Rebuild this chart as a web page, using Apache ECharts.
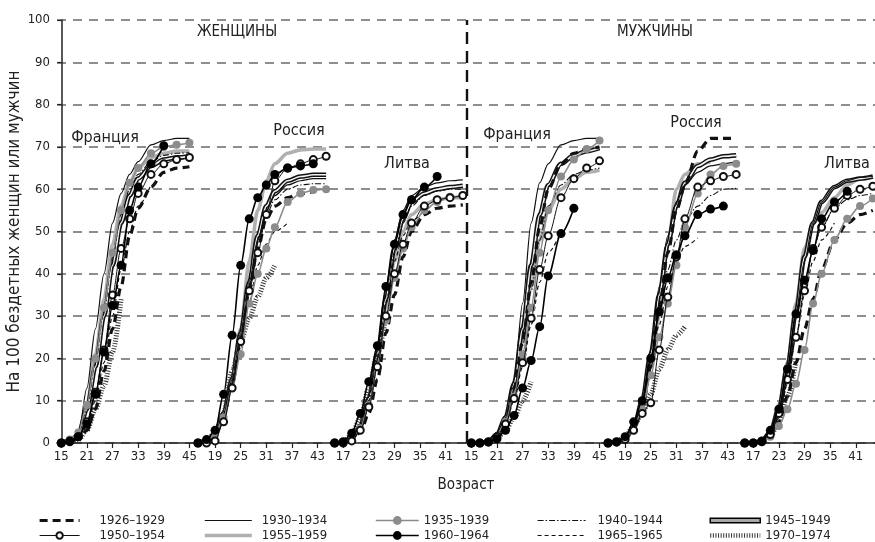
<!DOCTYPE html>
<html><head><meta charset="utf-8">
<script src="https://cdn.jsdelivr.net/npm/echarts@6/dist/echarts.min.js"></script>
<style>html,body{margin:0;padding:0;background:#fff}#c{width:875px;height:542px}</style>
</head><body><div id="c"></div>
<script>
const FONT = "'Liberation Sans Narrow','DejaVu Sans Condensed','Arial Narrow',sans-serif";

// ---- data ----
const ages = [15,17,19,21,23,25,27,29,31,33,36,39,42,45];
const cohorts = ['1926–1929','1930–1934','1935–1939','1940–1944','1945–1949','1950–1954','1955–1959','1960–1964','1965–1965','1970–1974'];
const tickLabels = ['15','21','27','33','39','45','19','25','31','37','43','17','23','29','35','41',
                    '15','21','27','33','39','45','19','25','31','37','43','17','23','29','35','41'];
const panelNames = ['Франция','Россия','Литва','Франция','Россия','Литва'];
const sexNames = ['ЖЕНЩИНЫ','МУЖЧИНЫ'];

const womenFrance = [
 [0,0.3,1,3,8,17,27,37,49,55.5,60.5,64,65,65.3],
 [0,0.5,2,13,27,40,52,59,63.5,66.5,70.5,71.5,72,72],
 [0,0.8,2.5,9,20,32,45,55,61.5,65,68.5,70,70.5,71],
 [0,0.5,2,8,19,31,44,54,60,63.5,66.5,68,68.5,68.6],
 [0,0.5,2,8,18,30,42,52,58.5,62.5,65.5,67,67.5,67.7],
 [0,0.3,1.5,5,12,22,35,46,53,59,63.5,66,67,67.5],
 [0,0.5,2,9,21,34,47,56,61.5,65,67.5,68.5,69,69],
 [0,0.5,1.5,4.5,11.5,21.5,32.5,42,55,60.5,66,70.3,null,null],
 [0,0.3,1,4,10,19,30,41,50,56,61,null,null,null],
 [0,0.2,0.8,3,8,13.5,21.5,34,null,null,null,null,null,null]
];
const womenRussia = [
 [0,0.3,1.5,6,14,24,36,46,53,56,58,59,59.4,null],
 [0,0.5,2,7,15,26,38,48,55,58.5,61,62,62.5,62.5],
 [0,0.5,2,6,13,21,33,40,46,51,57,59,59.8,60],
 [0,0.5,2,6.5,14,25,37,47,54,57.5,60,61,61.3,61.3],
 [0,0.5,2,7,15,26,38,49,56,59.5,62,63,63.4,63.4],
 [0,0,0.5,5,13,24,36,45,54,62,65,66,67,67.8],
 [0,0.5,2,7,16,27,43,55,62,66,68.5,69.3,69.5,69.5],
 [0,0.8,3,11.5,25.5,42,53,58,61,63.5,65,65.5,66,null],
 [0,0.5,2,6,13,22,33,42,47,50,52,null,null,null],
 [0,0.5,2.5,7,17,24,29.5,34.5,39,42,null,null,null,null]
];
const womenLithuania = [
 [0,0,0.5,2.5,7,15,26,35,44,50,54,55.5,56,56.3],
 [0,0,1,4,11,22,36,48,55,58.5,60.5,61.5,62,62.2],
 [0,0,0.8,3.5,9,18,29,39,46,51,55,57,58.2,58.5],
 [0,0,1,4,10,20,33,45,52,56,58.5,59.5,60,60],
 [0,0,1,4,10.5,21,34,46,53,57,59,60,60.5,60.8],
 [0,0,0.5,3,8.5,18,30,40,47,52,56,57.5,58,58.5],
 [0,0,1,4,10,20,32,43,50,54,56.5,57.5,58,58],
 [0,0.3,2.3,7,14.5,23,37,47,54,57.5,60.5,63,null,null],
 [0,0,1,4,11,21,33,43,49,52.5,55,null,null,null],
 [0,0.3,2,6,13,21,30,null,null,null,null,null,null,null]
];
const menFrance = [
 [0,0,0.3,1.5,5,13,24,38,51,60,66,68.5,69.5,70],
 [0,0,0.5,2.5,6,15,33,52,61.5,66,70.5,71.5,72,72],
 [0,0,0.3,1.5,5,11,21,32,45,55,63,67,69.5,71.5],
 [0,0,0.3,1.5,5,12,23,36,48,56,61,63.5,64.5,65],
 [0,0,0.4,2,6,14,27,42,54,61,66,68,69,69.7],
 [0,0,0.3,1.5,4.5,10.5,19,29.5,41,49,58,62.5,65,66.7],
 [0,0,0.3,1.5,5,12,24,37,48,55,60,62.5,64,64.5],
 [0,0,0.2,1,3,6.5,13,19.5,27.5,39.5,49.5,55.5,null,null],
 [0,0,0.3,1.5,4.5,10,18,28,38,45,50,null,null,null],
 [0,0,0.3,1.2,3,6,10,14.5,null,null,null,null,null,null]
];
const menRussia = [
 [0,0.2,0.8,3,8,18,32,45,55,61,69,72,72,72],
 [0,0.3,1,3.5,10,22,37,49,57,61,64,65.5,66,66.5],
 [0,0.2,0.8,3,8,16,25,33,42,51,59,63.5,65.5,66],
 [0,0.2,1,3.5,10,20,31,41,48,52.5,56,58.5,60,60.2],
 [0,0.3,1,3.5,10,21,35,47,56,61.5,65.5,67,67.8,68],
 [0,0.2,0.8,3,7,9.5,22,34.5,44,53,60.5,62,63,63.5],
 [0,0.3,1,3.5,9,18,30,47,60,63.5,66,66.5,null,null],
 [0,0.3,1.5,5,10,20,31,39,44.5,49,54,55.3,56,null],
 [0,0.2,1,3.5,9,18,28,37,43,46.5,48.5,null,null,null],
 [0,0.3,1.5,4,7,11.5,17.5,22,25.5,27.5,null,null,null,null]
];
const menLithuania = [
 [0,0,0.3,1.5,5,11,19,27,34,41,48,52,54,55],
 [0,0,0.5,2.5,8,18,31,43,52,57,60.5,62,62.8,63],
 [0,0,0.3,1.5,4,8,14,22,33,40,48,53,56,57.8],
 [0,0,0.4,2,6,14,25,37,46,51,55.5,57.5,58.5,59],
 [0,0,0.5,2.5,8,18,31,44,52,57,60.5,62,62.5,63],
 [0,0,0.3,2,7,15,25,36,46,51,55.5,58.5,60,60.7],
 [0,0,0.5,3,9,19,33,46,52,54.5,58,61,62.5,63],
 [0,0,0.5,3,8,17.5,30.5,38.5,45.5,53,57,59.5,null,null],
 [0,0,0.4,2,6,14,25,35,43,48,52,null,null,null],
 [0,0,0.3,1.5,5,11,19.5,null,null,null,null,null,null,null]
];

// ---- layout ----
const panels = [womenFrance, womenRussia, womenLithuania, menFrance, menRussia, menLithuania];
const panelStart = [0, 32, 64, 96, 128, 160]; // category slot of age 15 in each panel
const dividerAt = 95;

function cohortData(ci) {
  const out = [];
  panels.forEach((pan, p) => {
    pan[ci].forEach((v, i) => { if (v !== null) out.push([panelStart[p] + ages[i] - 15, v]); });
    out.push([panelStart[p] + 31, null]);
  });
  return out;
}

const styleOf = [
  {color:'#111', lineStyle:{width:3.2, type:[8,5]}, symbol:'none', z:3},
  {color:'#111', lineStyle:{width:1.2}, symbol:'none', z:4},
  {color:'#8c8c8c', lineStyle:{width:1.6}, symbol:'circle', symbolSize:8, z:6},
  {color:'#111', lineStyle:{width:1.1, type:[6,2,1.5,2]}, symbol:'none', z:4},
  {color:'#111', lineStyle:{width:4.6}, symbol:'none', z:2},
  {color:'#111', lineStyle:{width:1}, symbol:'emptyCircle', symbolSize:7, itemStyle:{color:'#111', borderWidth:1}, z:7},
  {color:'#b0b0b0', lineStyle:{width:3.6}, symbol:'none', z:1},
  {color:'#000', lineStyle:{width:1.6}, symbol:'circle', symbolSize:9, z:8},
  {color:'#111', lineStyle:{width:1.2, type:[4,3]}, symbol:'none', z:4},
  {color:'#333', lineStyle:{width:5, type:[1,1.6]}, symbol:'none', z:2}
];

const series = cohorts.map((name, ci) => {
  const st = styleOf[ci];
  return {
    name, type:'line', data: cohortData(ci), smooth:0.3, smoothMonotone:'x',
    connectNulls:false, symbol: st.symbol, symbolSize: st.symbolSize || 4, showSymbol: st.symbol !== 'none',
    itemStyle: Object.assign({color: st.color}, st.itemStyle || {}),
    lineStyle: Object.assign({color: st.color}, st.lineStyle), z: st.z, silent:true,
    emphasis:{disabled:true}
  };
});
// inner light core of the double line (1945–1949) + divider between women and men
series.push({
  name:'1945–1949 core', type:'line', data: cohortData(4), smooth:0.3, smoothMonotone:'x',
  symbol:'none', lineStyle:{color:'#f2f2f2', width:1.6}, z:2.5, silent:true, emphasis:{disabled:true},
  markLine:{silent:true, symbol:'none', label:{show:false}, z:9, animation:false,
    lineStyle:{color:'#111', width:2.4, type:[12,7]},
    data:[[{coord:[dividerAt,0]},{coord:[dividerAt,100]}]]}
});

const legendCols = [
  {left:38, w:40, h:8, pad:15, items:[0,5]},
  {left:203, w:47, h:11, pad:5, items:[1,6]},
  {left:375, w:43, h:11, pad:0, items:[2,7]},
  {left:537, w:48, h:11, pad:7, items:[3,8]},
  {left:708, w:50, h:11, pad:0, items:[4,9]}
];
const legendItem = (ci) => {
  const st = styleOf[ci];
  if (ci === 4) return {name:cohorts[ci], icon:'path://M0,0H50V4.5H0Z', itemStyle:{color:'#a8a8a8', borderColor:'#000', borderWidth:1.5}};
  const it = {name:cohorts[ci], lineStyle:{width: Math.min(st.lineStyle.width, 4.5)}};
  if (st.symbol === 'none') it.itemStyle = {opacity:0};
  return it;
};
const legend = legendCols.map(c => ({
  orient:'vertical', left:c.left, top:514, itemGap:2, itemWidth:c.w, itemHeight:c.h,
  selectedMode:false, padding:0,
  textStyle:{fontFamily:FONT, fontSize:13, color:'#222', padding:[0,0,0,c.pad], lineHeight:13},
  data: c.items.map(legendItem)
}));

const labels = [
  {t:sexNames[0], x:237, y:32, s:15}, {t:sexNames[1], x:655, y:32, s:15},
  {t:panelNames[0], x:105, y:138, s:16}, {t:panelNames[1], x:299, y:131, s:16},
  {t:panelNames[2], x:407, y:164, s:16}, {t:panelNames[3], x:517, y:135, s:16},
  {t:panelNames[4], x:696, y:123, s:16}, {t:panelNames[5], x:847, y:164, s:16}
];

const chart = echarts.init(document.getElementById('c'), null, {renderer:'canvas'});
chart.setOption({
  animation:false,
  backgroundColor:'#fff',
  grid:{left:57, right:0, top:20, bottom:99, containLabel:false, outerBoundsMode:'none'},
  xAxis:{
    type:'value', min:-1, max:190.5,
    name:'Возраст', nameLocation:'middle', nameGap:35,
    nameTextStyle:{fontFamily:FONT, fontSize:15, color:'#222'},
    axisLine:{show:true, onZero:false, lineStyle:{color:'#222', width:1.5}},
    axisTick:{show:true, length:5, lineStyle:{color:'#222', width:1.2},
      customValues: tickLabels.map((_, i) => i * 6)},
    axisLabel:{fontFamily:FONT, fontSize:13, color:'#222', margin:7,
      customValues: tickLabels.map((_, i) => i * 6),
      formatter: v => tickLabels[Math.round(v / 6)] || ''},
    splitLine:{show:false}
  },
  yAxis:{
    type:'value', min:0, max:100, interval:10,
    name:'На 100 бездетных женщин или мужчин', nameLocation:'middle', nameGap:34, nameRotate:90,
    nameMoveOverlap:false,
    nameTextStyle:{fontFamily:FONT, fontSize:17, color:'#222'},
    axisLine:{show:true, lineStyle:{color:'#222', width:1.5}},
    axisTick:{show:true, length:4, lineStyle:{color:'#222', width:1.2}},
    axisLabel:{fontFamily:FONT, fontSize:13, color:'#222', margin:7},
    splitLine:{show:true, lineStyle:{color:'#6a6a6a', width:1.5, type:[9,7]}}
  },
  legend,
  graphic: labels.map(l => ({type:'text', x:l.x, y:l.y, silent:true,
    style:{text:l.t, fontFamily:FONT, fontSize:l.s, fill:'#222', textAlign:'center', textVerticalAlign:'middle'}})),
  series
});
</script></body></html>
